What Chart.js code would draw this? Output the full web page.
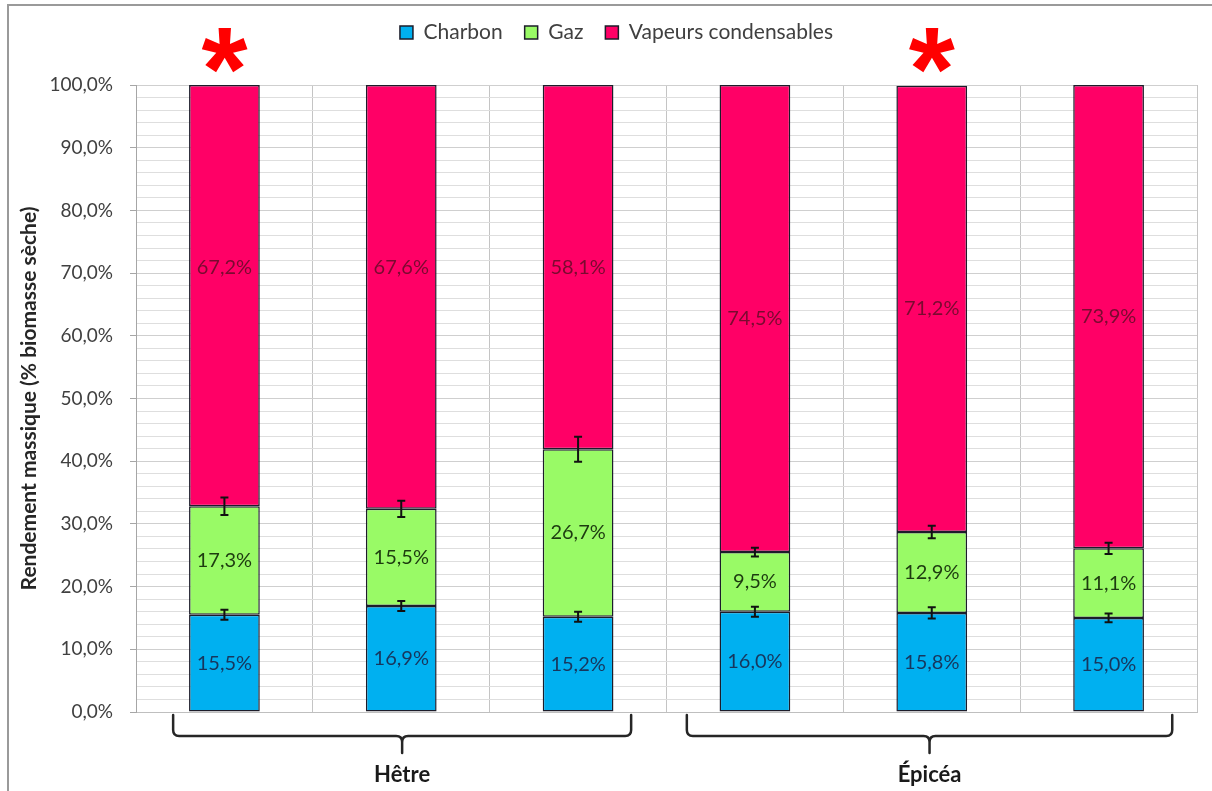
<!DOCTYPE html>
<html><head><meta charset="utf-8">
<script src="https://cdn.jsdelivr.net/npm/chart.js@4"></script>
<style>html,body{margin:0;padding:0;background:#fff}#wrap{width:1212px;height:791px;position:relative}</style>
</head><body><div id="wrap"><canvas id="c" width="1212" height="791"></canvas></div>
<script>
// ---- data ----
const categories = ['Hêtre 1', 'Hêtre 2', 'Hêtre 3', 'Épicéa 1', 'Épicéa 2', 'Épicéa 3'];
const groupNames = ['Hêtre', 'Épicéa'];
const groupFirst = [0, 3];
const groupLast = [2, 5];
const seriesNames = ['Charbon', 'Gaz', 'Vapeurs condensables'];
const charbon = [15.5, 16.9, 15.2, 16.0, 15.8, 15.0];
const gaz = [17.3, 15.5, 26.7, 9.5, 12.9, 11.1];
const vapeurs = [67.2, 67.6, 58.1, 74.5, 71.2, 73.9];
const errCharbon = [0.8, 0.8, 0.8, 0.8, 0.9, 0.7];
const errGaz = [1.4, 1.3, 2.0, 0.7, 1.0, 0.9];
const significant = [true, false, false, false, true, false];
const yTickValues = [0, 10, 20, 30, 40, 50, 60, 70, 80, 90, 100];
const yTitle = 'Rendement massique (% biomasse sèche)';

const FONT = 'Lato, "Open Sans", "DejaVu Sans", sans-serif';
const fmt = v => v.toFixed(1).replace('.', ',') + '%';

// ---- plugins ----
const frame = {
  id: 'frame',
  beforeDraw(chart) {
    const ctx = chart.ctx;
    ctx.save();
    ctx.fillStyle = '#fff';
    ctx.fillRect(0, 0, chart.width, chart.height);
    ctx.strokeStyle = '#9a9a9a';
    ctx.lineWidth = 2;
    ctx.strokeRect(8, 5, chart.width + 50, chart.height + 50);
    ctx.restore();
  }
};

const legendTweak = {
  id: 'legendTweak',
  afterInit(chart, args, opts) {
    const lg = chart.legend;
    if (!lg || lg._tweaked) return;
    lg._tweaked = true;
    const fit = lg.fit.bind(lg);
    lg.fit = function () { fit(); this.height += opts.extraBottom; };
    const draw = lg.draw.bind(lg);
    lg.draw = function () {
      const ctx = chart.ctx;
      ctx.save(); ctx.translate(opts.shiftX, 0); draw(); ctx.restore();
    };
  }
};

const barLabels = {
  id: 'barLabels',
  afterDatasetsDraw(chart, args, opts) {
    const ctx = chart.ctx;
    const y = chart.scales.y;
    ctx.save();
    // error bars
    ctx.strokeStyle = '#111';
    ctx.lineWidth = 2;
    const errs = [errCharbon, errGaz];
    chart.data.datasets.forEach((ds, di) => {
      if (di > 1) return;
      const meta = chart.getDatasetMeta(di);
      meta.data.forEach((bar, i) => {
        let cum = 0;
        for (let k = 0; k <= di; k++) cum += chart.data.datasets[k].data[i];
        const e = errs[di][i];
        const y1 = y.getPixelForValue(cum + e), y2 = y.getPixelForValue(cum - e);
        ctx.beginPath();
        ctx.moveTo(bar.x, y1); ctx.lineTo(bar.x, y2);
        ctx.moveTo(bar.x - 4, y1); ctx.lineTo(bar.x + 4, y1);
        ctx.moveTo(bar.x - 4, y2); ctx.lineTo(bar.x + 4, y2);
        ctx.stroke();
      });
    });
    // value labels
    ctx.font = '20px ' + FONT;
    ctx.textAlign = 'center';
    ctx.textBaseline = 'middle';
    chart.data.datasets.forEach((ds, di) => {
      const meta = chart.getDatasetMeta(di);
      meta.data.forEach((bar, i) => {
        const c = bar.getCenterPoint();
        const shift = (opts.shifts[di] || [])[i] || 0;
        ctx.fillStyle = opts.colors[di];
        ctx.fillText(fmt(ds.data[i]), c.x, c.y + shift);
      });
    });
    ctx.restore();
  }
};

const extras = {
  id: 'extras',
  afterDraw(chart, args, opts) {
    const ctx = chart.ctx;
    const xs = chart.scales.x;
    const area = chart.chartArea;
    const catW = xs.getPixelForValue(1) - xs.getPixelForValue(0);
    ctx.save();
    // asterisks
    ctx.fillStyle = '#ff0000';
    ctx.font = 'bold 100px "Liberation Sans", sans-serif';
    ctx.textAlign = 'center';
    ctx.textBaseline = 'alphabetic';
    const m = ctx.measureText('*');
    const h = m.actualBoundingBoxAscent + m.actualBoundingBoxDescent;
    const size = 100 * 45 / h;
    ctx.font = 'bold ' + size + 'px "Liberation Sans", sans-serif';
    const m2 = ctx.measureText('*');
    significant.forEach((s, i) => {
      if (!s) return;
      const cx = xs.getPixelForValue(i);
      const cy = area.top - 35;
      const base = cy + (m2.actualBoundingBoxAscent - m2.actualBoundingBoxDescent) / 2;
      ctx.fillText('*', cx, base);
    });
    // brackets
    ctx.strokeStyle = '#262626';
    ctx.lineWidth = 2.5;
    ctx.lineJoin = 'round';
    ctx.lineCap = 'round';
    const yTop = area.bottom + 3, yH = area.bottom + 24, yTip = area.bottom + 41, r = 6;
    groupNames.forEach((g, gi) => {
      const x1 = xs.getPixelForValue(groupFirst[gi]) - opts.ext[gi][0] * catW;
      const x2 = xs.getPixelForValue(groupLast[gi]) + opts.ext[gi][1] * catW;
      const xm = (x1 + x2) / 2;
      ctx.beginPath();
      ctx.moveTo(x1, yTop);
      ctx.lineTo(x1, yH - r);
      ctx.quadraticCurveTo(x1, yH, x1 + r, yH);
      ctx.lineTo(xm - r, yH);
      ctx.quadraticCurveTo(xm, yH, xm, yH + r);
      ctx.lineTo(xm, yTip);
      ctx.moveTo(xm, yH + r);
      ctx.quadraticCurveTo(xm, yH, xm + r, yH);
      ctx.lineTo(x2 - r, yH);
      ctx.quadraticCurveTo(x2, yH, x2, yH - r);
      ctx.lineTo(x2, yTop);
      ctx.stroke();
      ctx.fillStyle = '#1a1a1a';
      ctx.font = 'bold 22px ' + FONT;
      ctx.textAlign = 'center';
      ctx.textBaseline = 'middle';
      ctx.fillText(g, xm, area.bottom + 63);
    });
    ctx.restore();
  }
};

new Chart(document.getElementById('c'), {
  type: 'bar',
  data: {
    labels: categories,
    datasets: [
      { label: seriesNames[0], data: charbon, backgroundColor: '#00b0f0' },
      { label: seriesNames[1], data: gaz, backgroundColor: '#99fa66' },
      { label: seriesNames[2], data: vapeurs, backgroundColor: '#ff0066' }
    ].map(d => Object.assign(d, {
      borderColor: '#1c1c2a', borderWidth: 1.5, borderSkipped: false,
      categoryPercentage: 1, barPercentage: 0.4
    }))
  },
  options: {
    responsive: false,
    animation: false,
    devicePixelRatio: 1,
    layout: { padding: { left: 12, right: 15, top: 0, bottom: 79 } },
    plugins: {
      legend: {
        position: 'top',
        labels: {
          font: { family: FONT, size: 21 },
          color: '#404040',
          boxWidth: 13, boxHeight: 13,
          padding: 22
        }
      },
      legendTweak: { extraBottom: 32, shiftX: 12 },
      tooltip: { enabled: false },
      barLabels: {
        colors: ['#17365d', '#1d3b10', '#7a0a30'],
        shifts: { 2: [-28, -29, 0, 0, 0, 0] }
      },
      extras: { ext: [[0.29, 0.30], [0.385, 0.36]] }
    },
    scales: {
      x: {
        stacked: true,
        ticks: { display: false },
        grid: { color: '#c4c4c4', drawTicks: false, offset: true },
        border: { display: true, color: '#bfbfbf' }
      },
      y: {
        stacked: true,
        min: 0, max: 100,
        afterFit: s => { s.width = 124; },
        ticks: {
          stepSize: 2, autoSkip: false, padding: 17,
          font: { family: FONT, size: 19 }, color: '#404040',
          callback: v => {
            const r = Math.round(v);
            return (Math.abs(v - r) < 1e-6 && yTickValues.includes(r)) ? fmt(r) : '';
          }
        },
        grid: {
          color: c => (c.tick && Math.round(c.tick.value) % 10 === 0) ? '#cfcfcf' : '#dedede',
          tickColor: c => (c.tick && Math.round(c.tick.value) % 10 === 0) ? '#a6a6a6' : 'rgba(0,0,0,0)',
          tickLength: 6
        },
        border: { display: true, color: '#a6a6a6' },
        title: {
          display: true, text: yTitle, color: '#262626',
          font: { family: FONT, size: 21, weight: 'bold' },
          padding: { top: 5, bottom: 0 }
        }
      }
    }
  },
  plugins: [frame, legendTweak, barLabels, extras]
});
</script>
</body></html>
